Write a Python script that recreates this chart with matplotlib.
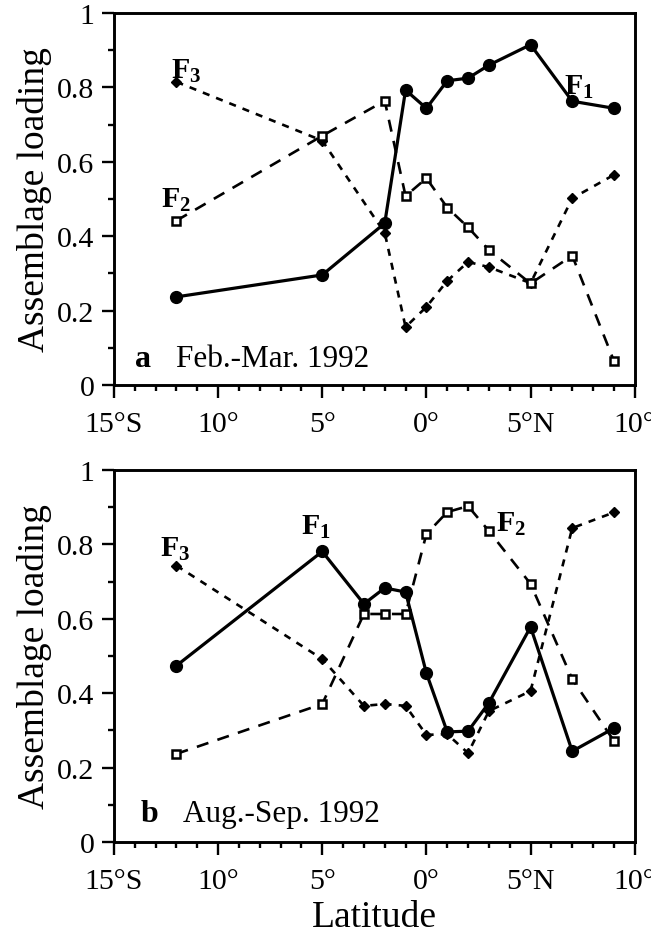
import matplotlib
matplotlib.use("Agg")
import matplotlib.pyplot as plt
from matplotlib.ticker import MultipleLocator, FixedLocator, FixedFormatter

plt.rcParams['font.family'] = ['Liberation Serif', 'DejaVu Serif']
plt.rcParams['mathtext.fontset'] = 'custom'
plt.rcParams['mathtext.rm'] = 'Liberation Serif'
plt.rcParams['mathtext.bf'] = 'Liberation Serif:bold'

# panel a: Feb.-Mar. 1992
lat_a = [-12, -5, -2, -1, 0, 1, 2, 3, 5, 7, 9]
f1_a = [0.237, 0.296, 0.435, 0.793, 0.744, 0.818, 0.825, 0.860, 0.915, 0.763, 0.744]
f2_a = [0.442, 0.670, 0.764, 0.508, 0.556, 0.477, 0.424, 0.363, 0.273, 0.348, 0.065]
f3_a = [0.815, 0.657, 0.409, 0.156, 0.210, 0.280, 0.331, 0.317, 0.274, 0.502, 0.565]

# panel b: Aug.-Sep. 1992
lat_b = [-12, -5, -3, -2, -1, 0, 1, 2, 3, 5, 7, 9]
f1_b = [0.474, 0.781, 0.640, 0.683, 0.672, 0.454, 0.296, 0.298, 0.374, 0.578, 0.244, 0.306]
f2_b = [0.237, 0.371, 0.613, 0.613, 0.613, 0.828, 0.887, 0.903, 0.836, 0.694, 0.438, 0.272]
f3_b = [0.743, 0.492, 0.366, 0.371, 0.366, 0.288, 0.290, 0.239, 0.352, 0.406, 0.844, 0.886]

xticks = [-15, -10, -5, 0, 5, 10]
xlabels = ["15°S", "10°", "5°", "0°", "5°N", "10°"]
yticks = [0, 0.2, 0.4, 0.6, 0.8, 1]
ylabels = ["0", "0.2", "0.4", "0.6", "0.8", "1"]

fig = plt.figure(figsize=(6.51, 9.37), dpi=100)
ax_a = fig.add_axes([0.175, 0.588, 0.800, 0.397])
ax_b = fig.add_axes([0.175, 0.1003, 0.800, 0.397])


def draw_panel(ax, lat, f1, f2, f3):
    ax.plot(lat, f3, color='black', lw=1.9, dashes=(2.7, 2.7),
            marker='D', ms=5.5, mfc='black', mec='black', zorder=2)
    ax.plot(lat, f2, color='black', lw=1.9, dashes=(4.6, 3.6),
            marker='s', ms=6, mfc='white', mec='black', mew=1.8, zorder=3)
    ax.plot(lat, f1, color='black', lw=2.3, ls='-',
            marker='o', ms=8.5, mfc='black', mec='black', zorder=4)
    ax.set_xlim(-15, 10)
    ax.set_ylim(0, 1)
    ax.xaxis.set_major_locator(FixedLocator(xticks))
    ax.xaxis.set_major_formatter(FixedFormatter(xlabels))
    ax.xaxis.set_minor_locator(MultipleLocator(1))
    ax.yaxis.set_major_locator(FixedLocator(yticks))
    ax.yaxis.set_major_formatter(FixedFormatter(ylabels))
    ax.yaxis.set_minor_locator(MultipleLocator(0.1))
    ax.tick_params(which='major', direction='out', length=9, width=1.7,
                   labelsize=21.5, pad=5)
    ax.tick_params(which='minor', direction='out', length=4.5, width=1.7)
    ax.tick_params(axis='x', which='major', pad=10)
    for s in ax.spines.values():
        s.set_linewidth(2.1)
    ax.set_ylabel("Assemblage loading", fontsize=27, labelpad=4)


draw_panel(ax_a, lat_a, f1_a, f2_a, f3_a)
draw_panel(ax_b, lat_b, f1_b, f2_b, f3_b)
ax_b.set_xlabel("Latitude", fontsize=27, labelpad=4)

fs_f = 21.5
ax_a.text(-12.25, 0.825, r"$\mathbf{F_3}$", fontsize=fs_f, ha='left', va='baseline')
ax_a.text(-12.75, 0.478, r"$\mathbf{F_2}$", fontsize=fs_f, ha='left', va='baseline')
ax_a.text(6.6, 0.782, r"$\mathbf{F_1}$", fontsize=fs_f, ha='left', va='baseline')
ax_a.text(-14.0, 0.051, "a", fontsize=23, fontweight='bold', ha='left', va='baseline')
ax_a.text(-12.0, 0.051, "Feb.-Mar. 1992", fontsize=22.5, ha='left', va='baseline')

ax_b.text(-12.8, 0.769, r"$\mathbf{F_3}$", fontsize=fs_f, ha='left', va='baseline')
ax_b.text(-6.0, 0.828, r"$\mathbf{F_1}$", fontsize=fs_f, ha='left', va='baseline')
ax_b.text(3.35, 0.836, r"$\mathbf{F_2}$", fontsize=fs_f, ha='left', va='baseline')
ax_b.text(-13.7, 0.056, "b", fontsize=23, fontweight='bold', ha='left', va='baseline')
ax_b.text(-11.7, 0.056, "Aug.-Sep. 1992", fontsize=22.5, ha='left', va='baseline')

fig.savefig("out.png", dpi=100)
